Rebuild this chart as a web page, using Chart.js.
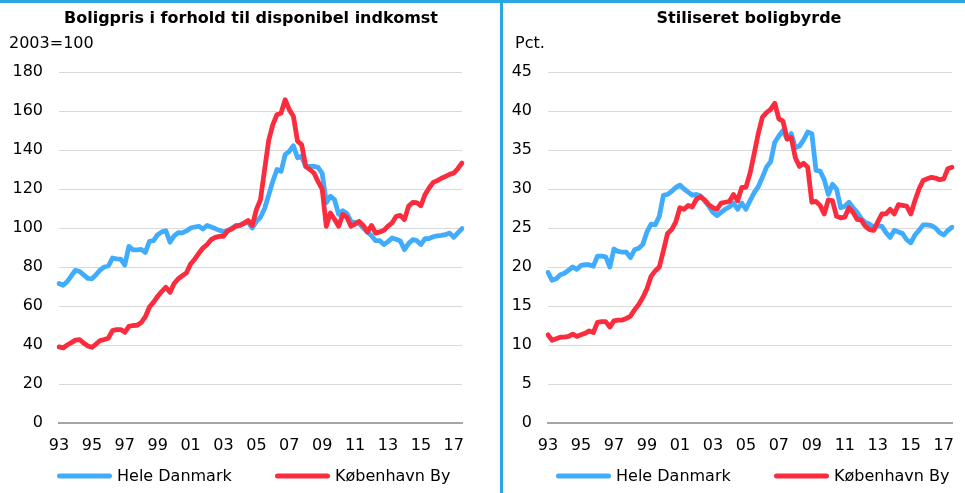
<!DOCTYPE html>
<html><head><meta charset="utf-8">
<script src="https://cdn.jsdelivr.net/npm/chart.js@4.4.1/dist/chart.umd.min.js"></script>
<style>
html,body{margin:0;padding:0;background:#fff;}
#wrap{position:relative;width:965px;height:493px;overflow:hidden;background:#fff;}
#c1{position:absolute;left:0;top:0;}
#c2{position:absolute;left:502px;top:0;}
.topbar{position:absolute;left:0;top:0;width:965px;height:3px;background:#29A7E0;}
.divider{position:absolute;left:500px;top:0;width:3px;height:493px;background:#29A7E0;}
</style></head>
<body><div id="wrap">
<canvas id="c1" width="500" height="493"></canvas>
<canvas id="c2" width="463" height="493"></canvas>
<div class="topbar"></div><div class="divider"></div>
</div>
<script>
// ---------- DATA (quarterly, 1993K1 - 2017K3) ----------
const quarters = [];
for (let y = 1993; y <= 2017; y++) for (let q = 1; q <= 4; q++) quarters.push(y + 'K' + q);
quarters.length = 99;

const yearTicks = ['93','95','97','99','01','03','05','07','09','11','13','15','17'];
const seriesNames = ['Hele Danmark', 'København By'];

const prisHeleDanmark = [
 71.5,70.6,72.5,75.5,78.3,77.7,76.0,74.2,74.0,76.0,
 78.5,80.0,80.5,84.6,84.2,84.0,81.0,90.6,88.8,88.8,
 89.0,87.5,93.2,93.5,96.6,98.0,98.6,92.7,96.0,97.6,
 97.5,98.5,100.0,100.5,100.9,99.5,101.3,100.5,99.7,98.8,
 98.0,98.5,99.8,101.3,101.5,102.4,103.0,100.0,103.4,105.5,
 110.0,117.0,124.0,130.0,129.0,137.6,139.3,142.2,136.0,136.8,
 131.5,131.6,131.6,131.1,128.0,113.0,116.3,114.6,107.0,108.9,
 107.5,103.4,102.8,102.4,100.0,98.0,96.0,93.5,93.5,91.5,
 93.0,94.9,94.2,93.3,88.9,92.0,94.0,93.5,91.5,94.5,
 94.6,95.5,96.0,96.2,96.6,97.4,95.2,97.5,99.7];

const prisKbh = [
 39.0,38.5,40.0,41.2,42.5,42.8,41.0,39.5,38.8,40.5,
 42.3,42.8,43.5,47.4,47.9,47.9,46.5,49.6,50.0,50.1,
 51.5,54.5,59.5,62.0,65.0,67.5,69.6,67.0,71.5,74.0,
 75.5,77.0,81.5,84.0,87.0,89.7,91.5,94.0,95.2,95.7,
 95.7,98.6,99.5,100.9,101.3,102.5,103.8,101.3,109.4,114.6,
 130.0,145.0,153.0,158.1,159.0,165.8,160.7,157.3,144.5,142.8,
 131.6,130.0,128.2,123.8,120.0,100.9,107.7,104.5,100.9,106.9,
 105.5,100.9,102.0,103.4,101.3,98.0,101.3,97.4,98.0,98.8,
 101.0,102.6,106.0,106.5,104.3,111.1,113.1,113.0,111.4,117.1,
 120.5,123.4,124.3,125.5,126.5,127.5,128.2,130.5,133.3];

const byrdeHeleDanmark = [
 19.3,18.3,18.5,19.0,19.2,19.6,20.0,19.7,20.2,20.3,
 20.3,20.1,21.4,21.4,21.3,20.0,22.3,22.0,21.9,21.9,
 21.2,22.2,22.4,22.9,24.5,25.5,25.4,26.5,29.2,29.3,
 29.7,30.2,30.5,30.0,29.6,29.2,29.3,29.1,28.5,27.8,
 27.0,26.6,27.0,27.4,27.7,28.2,27.4,28.2,27.4,28.5,
 29.5,30.3,31.5,32.8,33.5,36.0,36.8,37.5,36.4,37.1,
 35.3,35.5,36.3,37.3,37.1,32.4,32.3,31.2,29.3,30.6,
 30.0,27.6,27.8,28.3,27.6,27.0,26.2,25.7,25.5,25.1,
 25.3,25.2,24.4,23.8,24.7,24.5,24.3,23.5,23.1,24.1,
 24.7,25.4,25.4,25.3,25.0,24.4,24.1,24.7,25.1];

const byrdeKbh = [
 11.3,10.6,10.8,11.0,11.0,11.1,11.4,11.1,11.3,11.5,
 11.8,11.6,12.9,13.0,13.0,12.3,13.1,13.2,13.2,13.4,
 13.7,14.5,15.2,16.1,17.2,18.8,19.5,20.0,22.1,24.3,
 24.8,25.8,27.6,27.4,27.9,27.7,28.7,29.0,28.6,28.0,
 27.6,27.4,28.2,28.3,28.4,29.3,28.5,30.2,30.2,32.0,
 34.5,37.1,39.2,39.8,40.2,41.0,39.0,38.7,36.4,36.6,
 34.0,32.9,33.3,32.8,28.3,28.4,27.9,26.8,28.6,28.5,
 26.5,26.3,26.4,27.6,27.0,26.1,26.0,25.2,24.8,24.7,
 25.8,26.8,26.8,27.4,26.8,28.0,27.9,27.8,26.8,28.5,
 30.0,31.1,31.3,31.5,31.4,31.2,31.3,32.6,32.8];

// ---------- STYLE ----------
const BLUE = '#41ACFB';
const RED = '#FB2C3E';
const FONT = '"DejaVu Sans", Verdana, sans-serif';

const panelText = {
  id: 'panelText',
  afterDraw(chart, args, o) {
    const ctx = chart.ctx;
    ctx.save();
    ctx.fillStyle = '#000';
    ctx.textBaseline = 'middle';
    ctx.font = 'bold 16px ' + FONT;
    ctx.textAlign = 'center';
    ctx.fillText(o.title, o.titleX, o.titleY);
    ctx.font = '16px ' + FONT;
    ctx.textAlign = 'left';
    ctx.fillText(o.unit, o.unitX, o.unitY);
    // legend
    chart.data.datasets.forEach((ds, i) => {
      const x = o.legendX + i * o.legendGap;
      ctx.strokeStyle = ds.borderColor;
      ctx.lineWidth = 5;
      ctx.lineCap = 'round';
      ctx.beginPath();
      ctx.moveTo(x + 2.5, o.legendY);
      ctx.lineTo(x + 52.5, o.legendY);
      ctx.stroke();
      ctx.fillText(ds.label, x + 60, o.legendY + 1);
    });
    ctx.restore();
  }
};

function makeChart(id, a, b, max, step, axisW, padRight, text) {
  return new Chart(document.getElementById(id), {
    type: 'line',
    data: {
      labels: quarters,
      datasets: [
        { label: seriesNames[0], data: a, borderColor: BLUE, backgroundColor: BLUE, order: 1 },
        { label: seriesNames[1], data: b, borderColor: RED, backgroundColor: RED, order: 0 }
      ]
    },
    options: {
      responsive: false,
      animation: false,
      devicePixelRatio: 1,
      elements: {
        point: { radius: 0, hoverRadius: 0 },
        line: { borderWidth: 4.8, tension: 0, borderJoinStyle: 'round', borderCapStyle: 'round' }
      },
      layout: { padding: { left: 0, right: padRight, top: 72, bottom: 40 } },
      plugins: {
        legend: { display: false },
        title: { display: false },
        tooltip: { enabled: false },
        panelText: text
      },
      scales: {
        x: {
          type: 'category',
          offset: false,
          grid: { display: false, drawTicks: false },
          border: { display: true, color: '#A6A6A6', width: 2 },
          ticks: {
            autoSkip: false, maxRotation: 0, minRotation: 0, padding: 13,
            color: '#000', font: { family: FONT, size: 16 },
            callback: (v, i) => (i % 8 === 0 ? yearTicks[i / 8] : '')
          },
          afterFit: s => { s.height = 30; }
        },
        y: {
          min: 0, max: max,
          grid: { color: '#D9D9D9', lineWidth: 1, drawTicks: false },
          border: { display: false },
          ticks: { stepSize: step, padding: 16, color: '#000', font: { family: FONT, size: 16 } },
          afterFit: s => { s.width = axisW; }
        }
      }
    },
    plugins: [panelText]
  });
}

makeChart('c1', prisHeleDanmark, prisKbh, 180, 20, 59, 38, {
  title: 'Boligpris i forhold til disponibel indkomst', titleX: 251, titleY: 19,
  unit: '2003=100', unitX: 9, unitY: 44,
  legendX: 57, legendY: 476, legendGap: 218
});
makeChart('c2', byrdeHeleDanmark, byrdeKbh, 45, 5, 46, 6, {
  title: 'Stiliseret boligbyrde', titleX: 247, titleY: 19,
  unit: 'Pct.', unitX: 13, unitY: 44,
  legendX: 54, legendY: 476, legendGap: 218
});
</script>
</body></html>
